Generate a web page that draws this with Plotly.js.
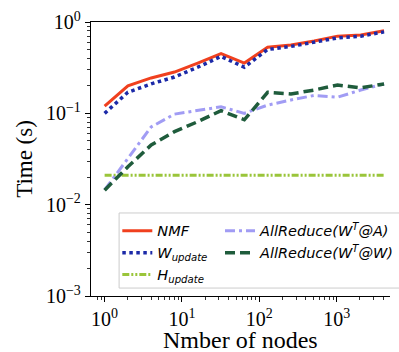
<!DOCTYPE html>
<html>
<head>
<meta charset="utf-8">
<script src="https://cdn.plot.ly/plotly-3.0.1.min.js"></script>
<style>
html,body{margin:0;padding:0;overflow:hidden;background:#fff;}
#chart{width:399px;height:352px;}
</style>
</head>
<body>
<div id="chart"></div>
<script>
const nodes = [1, 2, 4, 8, 16, 32, 64, 128, 256, 512, 1024, 2048, 4096];
const nmf = [0.12, 0.20, 0.244, 0.283, 0.355, 0.45, 0.355, 0.53, 0.56, 0.62, 0.70, 0.72, 0.80];
const wUpdate = [0.10, 0.17, 0.21, 0.25, 0.32, 0.42, 0.32, 0.50, 0.54, 0.60, 0.67, 0.70, 0.78];
const hUpdate = [0.021, 0.021, 0.021, 0.021, 0.021, 0.021, 0.021, 0.021, 0.021, 0.021, 0.021, 0.021, 0.021];
const allReduceA = [0.0145, 0.032, 0.071, 0.098, 0.107, 0.118, 0.10, 0.123, 0.14, 0.157, 0.15, 0.18, 0.21];
const allReduceW = [0.0144, 0.026, 0.045, 0.063, 0.081, 0.107, 0.085, 0.17, 0.163, 0.18, 0.204, 0.19, 0.21];
const xTitle = 'Nmber of nodes';
const yTitle = 'Time (s)';

const names = {
  nmf: '<i>NMF</i>',
  w: '<i>W<sub>update</sub></i>',
  h: '<i>H<sub>update</sub></i>',
  a: '<i>AllReduce(W<sup>T</sup>@A)</i>',
  ww: '<i>AllReduce(W<sup>T</sup>@W)</i>'
};

const traces = [
  {x: nodes, y: nmf, name: names.nmf, legend: 'legend', mode: 'lines',
   line: {color: '#f0401e', width: 3}},
  {x: nodes, y: wUpdate, name: names.w, legend: 'legend', mode: 'lines',
   line: {color: '#1c2aa8', width: 3.5, dash: 'dot'}},
  {x: nodes, y: hUpdate, name: names.h, legend: 'legend', mode: 'lines',
   line: {color: '#9ac53a', width: 3, dash: '7px,2px,2px,2px,2px,2px'}},
  {x: nodes, y: allReduceA, name: names.a, legend: 'legend2', mode: 'lines',
   line: {color: '#a19cf4', width: 3, dash: '10px,4px,3px,4px'}},
  {x: nodes, y: allReduceW, name: names.ww, legend: 'legend2', mode: 'lines',
   line: {color: '#1f5c3c', width: 3.5, dash: '10px,5px'}}
];

const serif = 'Liberation Serif, Times New Roman, serif';
const legFont = {family: 'DejaVu Sans, sans-serif', size: 14.5, color: '#000'};

const layout = {
  width: 399, height: 352,
  margin: {l: 91, r: 0, t: 22, b: 56},
  paper_bgcolor: '#fff', plot_bgcolor: '#fff',
  showlegend: true,
  xaxis: {
    type: 'log', range: [-0.176, 3.689],
    showgrid: false, zeroline: false,
    showline: true, linecolor: '#000', linewidth: 1.2, mirror: true,
    ticks: 'outside', ticklen: 5, tickwidth: 1, tickcolor: '#000',
    tickvals: [1, 10, 100, 1000],
    ticktext: ['10<sup>0</sup>', '10<sup>1</sup>', '10<sup>2</sup>', '10<sup>3</sup>'],
    tickfont: {family: serif, size: 20, color: '#000'},
    minor: {ticks: 'outside', ticklen: 3, tickcolor: '#000', tickwidth: 0.8,
            tickvals: [0.8,0.9,2,3,4,5,6,7,8,9,20,30,40,50,60,70,80,90,200,300,400,500,600,700,800,900,2000,3000,4000]}
  },
  yaxis: {
    type: 'log', range: [-3, 0],
    showgrid: false, zeroline: false,
    showline: true, linecolor: '#000', linewidth: 1.2, mirror: false,
    ticks: 'outside', ticklen: 5, tickwidth: 1, tickcolor: '#000',
    tickvals: [0.001, 0.01, 0.1, 1],
    ticktext: ['10<sup>−3</sup>', '10<sup>−2</sup>', '10<sup>−1</sup>', '10<sup>0</sup>'],
    tickfont: {family: serif, size: 20, color: '#000'},
    minor: {ticks: 'outside', ticklen: 3, tickcolor: '#000', tickwidth: 0.8,
            tickvals: [0.002,0.003,0.004,0.005,0.006,0.007,0.008,0.009,0.02,0.03,0.04,0.05,0.06,0.07,0.08,0.09,0.2,0.3,0.4,0.5,0.6,0.7,0.8,0.9]},
    title: {text: yTitle, font: {family: serif, size: 23, color: '#000'}, standoff: 6}
  },
  annotations: [{
    text: xTitle, xref: 'paper', yref: 'paper', x: 0.5, y: -0.162,
    xanchor: 'center', yanchor: 'middle', showarrow: false,
    font: {family: serif, size: 24, color: '#000'}
  }],
  shapes: [{
    type: 'rect', xref: 'paper', yref: 'paper', layer: 'above',
    x0: 0.094, x1: 1.1, y0: 0.029, y1: 0.303,
    fillcolor: 'rgba(255,255,255,0.9)', line: {color: '#cccccc', width: 1}
  }],
  legend: {
    orientation: 'v',
    x: 0.088, xanchor: 'left',
    y: 0.296, yanchor: 'top',
    bgcolor: 'rgba(0,0,0,0)', borderwidth: 0,
    font: legFont, traceorder: 'normal'
  },
  legend2: {
    orientation: 'v',
    x: 0.432, xanchor: 'left',
    y: 0.296, yanchor: 'top',
    bgcolor: 'rgba(0,0,0,0)', borderwidth: 0,
    font: legFont, traceorder: 'normal'
  }
};

Plotly.newPlot('chart', traces, layout, {displayModeBar: false, staticPlot: true});
</script>
</body>
</html>
